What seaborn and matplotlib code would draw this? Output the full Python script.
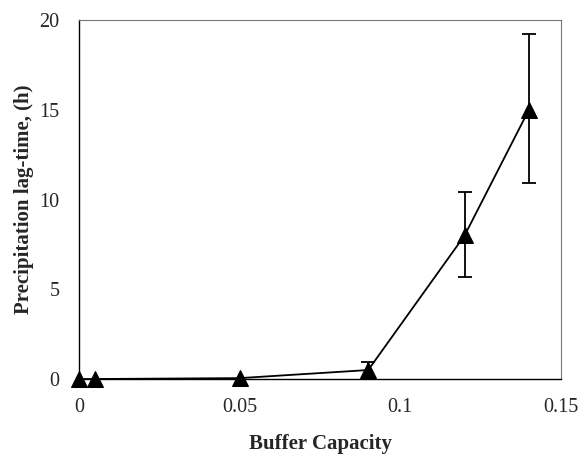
import numpy as np
import pandas as pd
import matplotlib
matplotlib.use("Agg")
import matplotlib.pyplot as plt
import seaborn as sns

# dados
buffer_capacity = [0.0, 0.005, 0.05, 0.09, 0.12, 0.14]
lag_time = [0.0, 0.0, 0.05, 0.5, 8.0, 15.0]
erro_inf = [0.0, 0.0, 0.0, 0.4, 2.3, 4.1]
erro_sup = [0.0, 0.0, 0.0, 0.45, 2.4, 4.2]

df = pd.DataFrame({"bc": buffer_capacity, "lag": lag_time})

sns.set_style("white")
plt.rcParams["font.family"] = ["Liberation Serif", "DejaVu Serif"]

fig = plt.figure(figsize=(5.79, 4.55), dpi=100)
ax = fig.add_axes([0.1364, 0.167, 0.8326, 0.789])

# barras de erro (apenas onde existem)
mask = np.array(erro_sup) > 0
ax.errorbar(np.array(buffer_capacity)[mask], np.array(lag_time)[mask],
            yerr=[np.array(erro_inf)[mask], np.array(erro_sup)[mask]],
            fmt="none", ecolor="black", elinewidth=1.3, capsize=5, capthick=1.3, zorder=2)

sns.lineplot(data=df, x="bc", y="lag", ax=ax, color="black", linewidth=1.3,
             marker="^", markersize=11, markeredgecolor="black", markerfacecolor="black",
             zorder=3)
for ln in ax.lines:
    ln.set_clip_on(False)

ax.set_xlim(0, 0.15)
ax.set_ylim(0, 20)
ax.set_xticks([0, 0.05, 0.1, 0.15])
ax.set_xticklabels(["0", "0.05", "0.1", "0.15"])
ax.set_yticks([0, 5, 10, 15, 20])
ax.tick_params(axis="both", length=0, labelsize=14.5)
ax.tick_params(axis="x", pad=14)
ax.tick_params(axis="y", pad=14)

ax.set_xlabel("Buffer Capacity", fontsize=15, fontweight="bold")
ax.set_ylabel("Precipitation lag-time, (h)", fontsize=15, fontweight="bold")
ax.xaxis.set_label_coords(0.5, -0.153)
ax.xaxis.label.set_va("top")
ax.yaxis.set_label_coords(-0.114, 0.5)
ax.yaxis.label.set_va("center")
ax.yaxis.label.set_ha("center")

for s in ax.spines.values():
    s.set_color("black")
    s.set_linewidth(1.0)
for s in ["top", "right"]:
    ax.spines[s].set_color("#777777")
    ax.spines[s].set_linewidth(0.8)

fig.savefig("out.png", dpi=100)
